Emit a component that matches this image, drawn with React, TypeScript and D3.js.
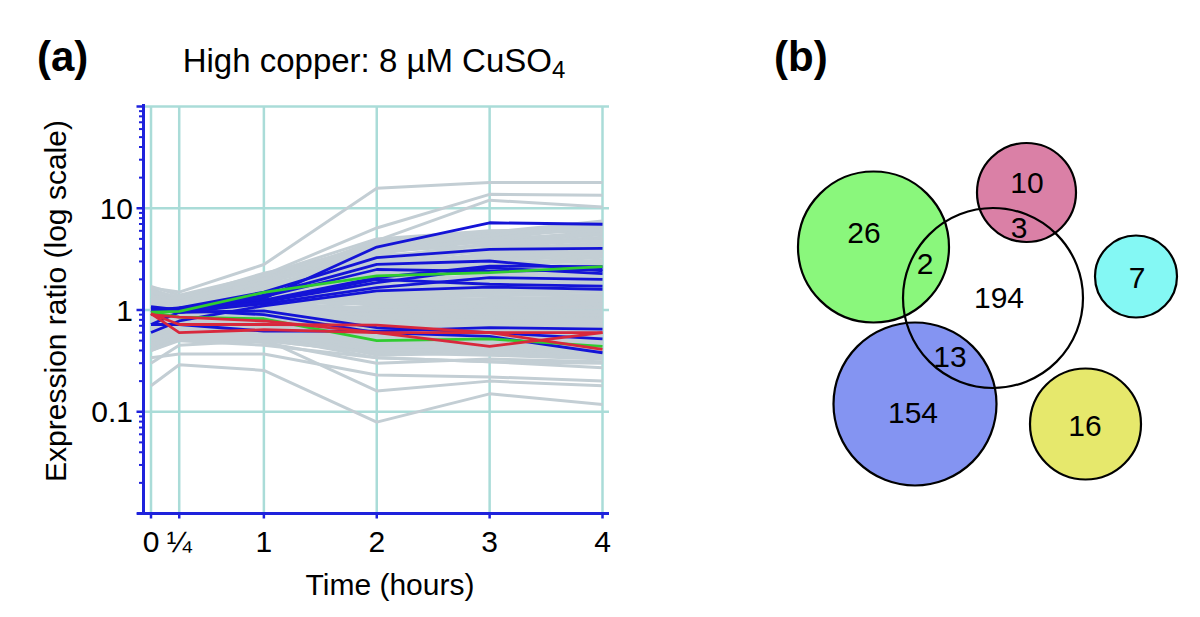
import React from "react";
import * as d3 from "d3";

// ---------- data ----------
const times = [0, 0.25, 1, 2, 3, 4];
const timeLabels = ["0", "¼", "1", "2", "3", "4"];
const yTickValues = [0.1, 1, 10];
const yTickLabels = ["0.1", "1", "10"];
const gridValues = [0.1, 1, 10, 100];

// expression ratio at each time point (0, ¼, 1, 2, 3, 4 h)
const grayProfiles: number[][] = [
  [1.2, 1.1, 1.8, 4.8, 5.8, 7.5],
  [1.0, 1.2, 2.0, 4.5, 5.5, 7.0],
  [1.3, 1.0, 1.6, 3.9, 5.2, 6.5],
  [0.9, 1.1, 2.2, 5.0, 6.0, 6.2],
  [1.1, 1.25, 1.9, 3.6, 4.8, 5.9],
  [1.4, 1.3, 2.1, 4.2, 4.6, 5.5],
  [1.0, 0.9, 1.5, 3.3, 4.4, 5.2],
  [0.8, 1.0, 1.7, 3.0, 4.1, 4.9],
  [1.2, 1.15, 1.4, 2.8, 3.9, 4.6],
  [1.5, 1.2, 1.95, 3.5, 3.7, 4.3],
  [1.1, 1.0, 1.3, 2.6, 3.5, 4.1],
  [0.95, 1.05, 1.6, 2.4, 3.3, 3.9],
  [1.3, 1.2, 1.75, 3.1, 3.2, 3.7],
  [1.0, 1.1, 1.45, 2.2, 3.0, 3.5],
  [0.85, 0.95, 1.25, 2.0, 2.8, 3.3],
  [1.2, 1.0, 1.55, 2.5, 2.7, 3.1],
  [1.0, 1.1, 1.35, 1.9, 2.5, 2.9],
  [1.1, 1.2, 1.65, 2.3, 2.4, 2.75],
  [0.9, 1.0, 1.2, 1.8, 2.25, 2.6],
  [1.05, 0.95, 1.4, 2.1, 2.1, 2.45],
  [1.25, 1.1, 1.3, 1.7, 2.0, 2.3],
  [0.9, 1.0, 1.15, 1.6, 1.9, 2.15],
  [1.0, 1.15, 1.5, 1.95, 1.85, 2.0],
  [1.15, 1.05, 1.25, 1.55, 1.75, 1.9],
  [0.8, 0.9, 1.1, 1.45, 1.65, 1.8],
  [1.0, 1.0, 1.3, 1.5, 1.55, 1.7],
  [1.35, 1.2, 1.2, 1.4, 1.5, 1.6],
  [0.95, 1.05, 1.1, 1.35, 1.45, 1.5],
  [1.1, 0.95, 1.05, 1.3, 1.38, 1.42],
  [0.9, 1.0, 1.15, 1.25, 1.3, 1.35],
  [1.0, 1.1, 1.0, 1.2, 1.25, 1.28],
  [1.2, 1.0, 1.2, 1.15, 1.2, 1.22],
  [0.85, 0.95, 0.95, 1.1, 1.15, 1.16],
  [1.0, 1.05, 1.1, 1.05, 1.1, 1.1],
  [1.1, 1.0, 0.9, 1.0, 1.05, 1.04],
  [0.9, 0.9, 1.0, 0.95, 1.0, 0.98],
  [1.6, 1.3, 2.3, 4.0, 5.0, 5.6],
  [1.4, 1.35, 2.0, 3.8, 4.3, 5.0],
  [1.2, 1.1, 1.85, 3.4, 4.0, 4.4],
  [1.0, 1.2, 1.6, 2.7, 3.6, 3.8],
  [1.3, 1.15, 1.7, 2.9, 3.1, 3.4],
  [0.75, 0.9, 1.4, 2.6, 2.9, 3.0],
  [1.1, 1.0, 1.5, 2.2, 2.3, 2.5],
  [1.0, 1.05, 1.3, 1.85, 2.2, 2.2],
  [1.7, 1.4, 2.2, 4.4, 5.3, 6.8],
  [0.95, 0.9, 0.9, 0.92, 0.94, 0.93],
  [0.9, 0.85, 0.88, 0.88, 0.9, 0.88],
  [1.0, 0.9, 0.85, 0.85, 0.86, 0.84],
  [0.85, 0.8, 0.82, 0.8, 0.82, 0.8],
  [0.8, 0.85, 0.78, 0.78, 0.78, 0.76],
  [0.9, 0.8, 0.8, 0.75, 0.74, 0.72],
  [0.75, 0.75, 0.75, 0.72, 0.7, 0.69],
  [0.7, 0.78, 0.72, 0.68, 0.67, 0.66],
  [0.85, 0.7, 0.7, 0.65, 0.64, 0.63],
  [0.65, 0.72, 0.68, 0.62, 0.61, 0.6],
  [0.8, 0.7, 0.66, 0.6, 0.58, 0.57],
  [0.6, 0.68, 0.64, 0.57, 0.56, 0.54],
  [0.75, 0.65, 0.62, 0.55, 0.53, 0.51],
  [0.55, 0.65, 0.6, 0.52, 0.51, 0.49],
  [0.7, 0.62, 0.6, 0.5, 0.49, 0.47],
  [0.5, 0.6, 0.58, 0.48, 0.47, 0.45],
  [0.65, 0.6, 0.56, 0.46, 0.45, 0.43],
  [0.48, 0.58, 0.55, 0.44, 0.44, 0.41],
  [0.6, 0.57, 0.54, 0.42, 0.42, 0.39],
  [0.45, 0.56, 0.52, 0.4, 0.41, 0.37],
  [0.55, 0.55, 0.5, 0.38, 0.4, 0.35],
  [0.5, 0.6, 0.56, 0.42, 0.46, 0.5],
  [0.42, 0.55, 0.58, 0.45, 0.52, 0.55],
  [0.9, 0.8, 0.7, 0.55, 0.6, 0.62],
  [0.8, 0.75, 0.65, 0.5, 0.55, 0.58],
  [1.0, 0.95, 0.8, 0.62, 0.7, 0.72],
  [0.7, 0.7, 0.75, 0.7, 0.76, 0.82],
  [0.95, 0.85, 0.95, 0.82, 0.86, 0.9],
  [0.6, 0.65, 0.7, 0.58, 0.5, 0.46],
  [0.85, 0.78, 0.74, 0.6, 0.52, 0.44],
  [0.7, 0.68, 0.62, 0.53, 0.5, 0.48],
  [0.62, 0.66, 0.6, 0.47, 0.46, 0.42],
  [0.58, 0.62, 0.57, 0.44, 0.43, 0.4],
  [0.52, 0.6, 0.55, 0.41, 0.39, 0.36],
  [0.8, 0.72, 0.68, 0.58, 0.56, 0.52],
  [0.9, 0.82, 0.76, 0.66, 0.62, 0.58],
  [0.75, 0.7, 0.72, 0.63, 0.6, 0.55],
  [1.05, 0.92, 0.86, 0.74, 0.7, 0.66],
  [0.68, 0.7, 0.66, 0.56, 0.58, 0.6],
  [0.58, 0.64, 0.6, 0.5, 0.48, 0.5],
  [1.1, 1.05, 1.0, 0.9, 0.85, 0.8],
  [1.2, 1.1, 1.05, 1.0, 0.96, 0.95],
  [1.3, 1.15, 1.25, 1.3, 1.2, 1.15],
  [1.15, 1.1, 1.4, 1.6, 1.6, 1.55],
  [1.25, 1.2, 1.6, 2.0, 2.1, 2.0],
  [1.4, 1.25, 1.8, 2.6, 2.6, 2.4],
  [1.05, 1.1, 1.7, 2.9, 3.4, 3.6],
  [1.3, 1.25, 1.9, 3.2, 4.5, 4.8],
  [1.5, 1.35, 2.05, 4.6, 5.6, 6.0],
  [1.1, 1.2, 2.1, 3.7, 5.0, 6.6],
  [1.35, 1.3, 2.0, 4.1, 5.4, 7.2],
  [0.45, 0.58, 0.6, 0.36, 0.38, 0.34],
  [0.4, 0.52, 0.48, 0.3, 0.33, 0.31],
  [1.65, 1.5, 2.8, 15.7, 17.9, 17.9],
  [1.3, 1.2, 2.2, 6.4, 13.7, 13.4],
  [1.1, 1.15, 1.9, 4.8, 12.0, 10.3],
  [0.18, 0.29, 0.255, 0.079, 0.15, 0.118],
  [0.34, 0.37, 0.37, 0.23, 0.22, 0.2],
  [0.4, 0.5, 0.45, 0.34, 0.31, 0.27],
  [0.5, 0.55, 0.52, 0.16, 0.2, 0.18],
  [0.45, 0.55, 0.55, 0.34, 0.31, 0.3],
  [0.3, 0.45, 0.5, 0.38, 0.36, 0.33],
];

const blueProfiles: number[][] = [
  [1.05, 1.0, 1.3, 4.16, 7.2, 6.96],
  [1.0, 1.05, 1.5, 3.27, 3.95, 4.04],
  [1.0, 1.0, 1.4, 2.81, 3.03, 2.42],
  [0.95, 1.05, 1.25, 2.08, 2.7, 2.67],
  [1.08, 1.0, 1.2, 1.86, 2.6, 2.28],
  [1.0, 0.95, 1.15, 1.66, 2.08, 2.0],
  [0.72, 0.95, 1.2, 2.0, 1.79, 1.72],
  [0.6, 0.78, 1.1, 1.54, 1.68, 1.6],
  [1.0, 1.0, 1.35, 2.5, 2.4, 2.5],
  [0.72, 0.72, 0.62, 0.62, 0.67, 0.65],
  [1.0, 0.95, 0.98, 0.67, 0.6, 0.52],
  [0.95, 1.0, 0.9, 0.6, 0.55, 0.38],
];

const greenProfiles: number[][] = [
  [0.95, 0.97, 1.49, 2.16, 2.33, 2.67],
  [0.95, 0.85, 0.82, 0.5, 0.52, 0.44],
];

const redProfiles: number[][] = [
  [0.92, 0.6, 0.64, 0.6, 0.44, 0.6],
  [0.92, 0.72, 0.72, 0.71, 0.6, 0.41],
  [0.9, 0.85, 0.78, 0.6, 0.6, 0.6],
];

// Venn diagram counts (region labels)
const vennCounts = ["26", "2", "10", "3", "194", "7", "13", "154", "16"];

// ---------- layout / style ----------
const FONT = "'Liberation Sans', Arial, Helvetica, sans-serif";
const GRID = "#aadcd8";
const AXIS = "#1e22dc";
const GRAY = "#c3ced4";

const vennCircleLayout: Record<string, { cx: number; cy: number; r: number; fill: string }> = {
  green: { cx: 873.5, cy: 247, r: 75.5, fill: "#8af77c" },
  pink: { cx: 1026.5, cy: 192.5, r: 49.5, fill: "#da80a6" },
  cyan: { cx: 1136, cy: 276.5, r: 41, fill: "#84f8f4" },
  blue: { cx: 915, cy: 404, r: 81.5, fill: "#8494f2" },
  yellow: { cx: 1085.5, cy: 424, r: 55.5, fill: "#e6e86c" },
  white: { cx: 993, cy: 298, r: 90, fill: "none" },
};
const vennLabelPos = [
  [864, 232], [925, 263], [1027, 182], [1019, 227], [999, 297],
  [1137, 277], [950, 356], [913, 412], [1085, 425],
];

export default function App() {
  const x = d3.scaleLinear().domain([0, 4]).range([151, 602.5]);
  const y = d3.scaleLog().domain([0.01, 100]).range([513.5, 106.5]);
  const line = d3
    .line<number>()
    .x((_, i) => x(times[i]))
    .y((d) => y(d));

  const minorTicks: number[] = [];
  [0.01, 0.1, 1, 10].forEach((dec) => {
    for (let k = 2; k <= 9; k++) minorTicks.push(dec * k);
  });
  const majorTicks = [0.01, 0.1, 1, 10, 100];
  const axisX = 143.5;
  const axisY = 513.5;

  const drawOrder = ["green", "pink", "cyan", "blue", "yellow", "white"];

  return (
    <svg
      width={1200}
      height={617}
      style={{ position: "absolute", left: 0, top: 0, background: "#fff" }}
      fontFamily={FONT}
    >
      <rect x={0} y={0} width={1200} height={617} fill="#fff" />
      {/* panel labels */}
      <text x={37} y={71} fontSize={42} fontWeight="bold">(a)</text>
      <text x={774} y={71} fontSize={42} fontWeight="bold">(b)</text>
      {/* title */}
      <text x={374} y={72} fontSize={33} textAnchor="middle">
        High copper: 8 µM CuSO<tspan fontSize={24} dy={6}>4</tspan>
      </text>

      {/* grid */}
      {gridValues.map((v) => (
        <line key={"h" + v} x1={axisX} x2={609} y1={y(v)} y2={y(v)} stroke={GRID} strokeWidth={2.5} />
      ))}
      {times.map((t) => (
        <line key={"v" + t} x1={x(t)} x2={x(t)} y1={y(100)} y2={axisY} stroke={GRID} strokeWidth={2.5} />
      ))}

      {/* lines */}
      <g fill="none" strokeLinejoin="round">
        {grayProfiles.map((p, i) => (
          <path key={"g" + i} d={line(p) || ""} stroke={GRAY} strokeWidth={3} />
        ))}
        {blueProfiles.map((p, i) => (
          <path key={"b" + i} d={line(p) || ""} stroke="#1414d6" strokeWidth={2.8} />
        ))}
        {greenProfiles.map((p, i) => (
          <path key={"gr" + i} d={line(p) || ""} stroke="#30cc30" strokeWidth={2.8} />
        ))}
        {redProfiles.map((p, i) => (
          <path key={"r" + i} d={line(p) || ""} stroke="#d8283c" strokeWidth={2.8} />
        ))}
      </g>

      {/* y axis */}
      <line x1={axisX} x2={axisX} y1={104} y2={axisY + 1.5} stroke={AXIS} strokeWidth={3} />
      {majorTicks.map((v) => (
        <line key={"M" + v} x1={axisX - 7} x2={axisX} y1={y(v)} y2={y(v)} stroke={AXIS} strokeWidth={2.5} />
      ))}
      {minorTicks.map((v) => (
        <line key={"m" + v} x1={axisX - 4.5} x2={axisX} y1={y(v)} y2={y(v)} stroke={AXIS} strokeWidth={2} />
      ))}
      {yTickValues.map((v, i) => (
        <text key={"yl" + v} x={133} y={y(v) + 10.5} fontSize={30} textAnchor="end">
          {yTickLabels[i]}
        </text>
      ))}

      {/* x axis */}
      <line x1={137} x2={609} y1={axisY} y2={axisY} stroke={AXIS} strokeWidth={3} />
      {times.map((t, i) => (
        <g key={"xt" + t}>
          <line x1={x(t)} x2={x(t)} y1={axisY} y2={axisY + 5} stroke={AXIS} strokeWidth={2.5} />
          <text x={x(t)} y={552} fontSize={30} textAnchor="middle">
            {timeLabels[i]}
          </text>
        </g>
      ))}
      <text x={390} y={595} fontSize={30} textAnchor="middle">Time (hours)</text>
      <text transform="translate(66,301) rotate(-90)" fontSize={30} textAnchor="middle">
        Expression ratio (log scale)
      </text>

      {/* Venn diagram */}
      {drawOrder.map((k) => {
        const c = vennCircleLayout[k];
        return (
          <circle key={k} cx={c.cx} cy={c.cy} r={c.r} fill={c.fill} stroke="#000" strokeWidth={2.2} />
        );
      })}
      {vennCounts.map((c, i) => (
        <text
          key={"vc" + i}
          x={vennLabelPos[i][0]}
          y={vennLabelPos[i][1]}
          fontSize={30}
          textAnchor="middle"
          dominantBaseline="central"
        >
          {c}
        </text>
      ))}
    </svg>
  );
}
